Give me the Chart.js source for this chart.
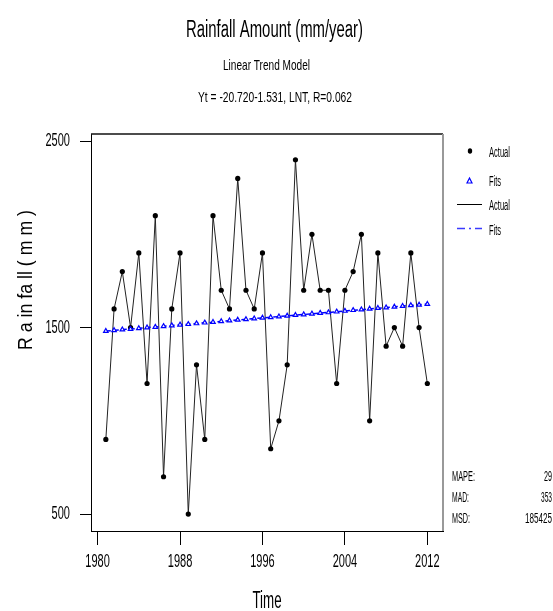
<!DOCTYPE html>
<html>
<head>
<meta charset="utf-8">
<script src="https://cdn.jsdelivr.net/npm/chart.js@4.4.1/dist/chart.umd.min.js"></script>
<style>
html,body{margin:0;padding:0;background:#fff;}
#wrap{width:553px;height:611px;}
</style>
</head>
<body>
<div id="wrap"><canvas id="c" width="553" height="611"></canvas></div>
<script>
// ---- data ----
const actual = [900,1600,1800,1500,1900,1200,2100,700,1600,1900,
                500,1300,900,2100,1700,1600,2300,1700,1600,1900,
                850,1000,1300,2400,1700,2000,1700,1700,1200,1700,
                1800,2000,1000,1900,1400,1500,1400,1900,1500,1200];
const fits = [1481,1485,1489,1492,1496,1500,1503,1507,1511,1515,
              1518,1522,1526,1529,1533,1537,1541,1544,1548,1552,
              1555,1559,1563,1567,1570,1574,1578,1581,1585,1589,
              1593,1596,1600,1604,1607,1611,1615,1619,1622,1626];
const xTickIndex = [0,10,20,30,40];
const xTickLabels = ['1980','1988','1996','2004','2012'];
const yTicks = [500,1500,2500];
const statNames = ['MAPE:','MAD:','MSD:'];
const statValues = ['29','353','185425'];

const FONT = "'Liberation Sans', Arial, sans-serif";
const canvas = document.getElementById('c');
const ctx0 = canvas.getContext('2d');
const protoFill = CanvasRenderingContext2D.prototype.fillText;
const TICK_SX = 0.58;
// condensed look for text drawn by the library
ctx0.fillText = function(t, x, y) {
  this.save(); this.translate(x, y); this.scale(TICK_SX, 1);
  protoFill.call(this, t, 0, 0); this.restore();
};

function txt(ctx, s, x, y, size, w, align, rot) {
  ctx.save();
  ctx.font = size + 'px ' + FONT;
  const m = ctx.measureText(s).width;
  ctx.translate(x, y);
  if (rot) ctx.rotate(rot);
  ctx.scale(w / m, 1);
  ctx.textAlign = align || 'center';
  ctx.textBaseline = 'alphabetic';
  ctx.fillStyle = '#000';
  protoFill.call(ctx, s, 0, 0);
  ctx.restore();
}

const decor = {
  id: 'decor',
  afterDraw(chart) {
    const ctx = chart.ctx, a = chart.chartArea;
    // frame top/right
    ctx.save();
    ctx.strokeStyle = '#111'; ctx.lineWidth = 1.5;
    ctx.beginPath(); ctx.moveTo(a.left, a.top); ctx.lineTo(a.right, a.top); ctx.stroke();
    ctx.strokeStyle = '#999'; ctx.lineWidth = 2;
    ctx.beginPath(); ctx.moveTo(a.right, a.top); ctx.lineTo(a.right, a.bottom); ctx.stroke();
    ctx.restore();
    // titles
    txt(ctx, 'Rainfall Amount (mm/year)', 274.5, 37, 23, 177);
    txt(ctx, 'Linear Trend Model', 266.5, 70, 15, 87);
    txt(ctx, 'Yt = -20.720-1.531, LNT, R=0.062', 275, 102, 15, 154);
    // y axis title
    txt(ctx, 'R a in fa ll ( m m )', 32, 280, 21, 140, 'center', -Math.PI / 2);
    // legend
    ctx.save();
    ctx.fillStyle = '#000';
    ctx.beginPath(); ctx.ellipse(470, 151, 2.2, 2.8, 0, 0, Math.PI * 2); ctx.fill();
    ctx.strokeStyle = '#0000ff'; ctx.lineWidth = 1.2;
    ctx.beginPath(); ctx.moveTo(469.5, 178); ctx.lineTo(472, 183); ctx.lineTo(467, 183); ctx.closePath(); ctx.stroke();
    ctx.strokeStyle = '#000'; ctx.lineWidth = 1;
    ctx.beginPath(); ctx.moveTo(457, 204.5); ctx.lineTo(482, 204.5); ctx.stroke();
    ctx.strokeStyle = '#3a3aff'; ctx.lineWidth = 1.5; ctx.setLineDash([8, 4, 2, 4]);
    ctx.beginPath(); ctx.moveTo(457, 228.5); ctx.lineTo(482, 228.5); ctx.stroke();
    ctx.restore();
    txt(ctx, 'Actual', 489, 157, 14, 21, 'left');
    txt(ctx, 'Fits', 489, 186, 14, 12, 'left');
    txt(ctx, 'Actual', 489, 210, 14, 21, 'left');
    txt(ctx, 'Fits', 489, 235, 14, 12, 'left');
    // accuracy measures
    const ys = [481, 502, 523];
    const nw = [23, 17, 18];
    const vw = [8, 11, 27];
    for (let i = 0; i < statNames.length; i++) {
      txt(ctx, statNames[i], 452, ys[i], 14, nw[i], 'left');
      txt(ctx, statValues[i], 552, ys[i], 14, vw[i], 'right');
    }
  }
};

new Chart(canvas, {
  type: 'line',
  data: {
    datasets: [
      {
        label: 'Fits',
        data: fits.map((v, i) => ({x: i + 1, y: v})),
        borderColor: '#0000ff',
        borderWidth: 1.5,
        borderDash: [5, 3],
        pointStyle: 'triangle',
        pointRadius: 2.6,
        pointBorderWidth: 1.2,
        pointBorderColor: '#0000ff',
        pointBackgroundColor: '#ffffff',
        tension: 0,
        order: 0
      },
      {
        label: 'Actual',
        data: actual.map((v, i) => ({x: i + 1, y: v})),
        borderColor: '#222',
        borderWidth: 1,
        pointStyle: 'circle',
        pointRadius: 2.6,
        pointBorderWidth: 0,
        pointBackgroundColor: '#000',
        tension: 0,
        order: 1
      }
    ]
  },
  options: {
    responsive: false,
    animation: false,
    devicePixelRatio: 1,
    events: [],
    layout: {padding: {top: 134, right: 110, left: 0, bottom: 0}},
    plugins: {legend: {display: false}, tooltip: {enabled: false}, title: {display: false}},
    scales: {
      x: {
        type: 'linear',
        min: -0.8,
        max: 41.9,
        afterBuildTicks(s) { s.ticks = xTickIndex.map(v => ({value: v})); },
        afterFit(s) { s.height = 80; },
        grid: {drawOnChartArea: false, drawTicks: true, tickLength: 14, color: '#000', tickWidth: 1},
        border: {display: true, color: '#000', width: 1},
        ticks: {
          padding: 5,
          color: '#000',
          maxRotation: 0,
          autoSkip: false,
          font: {family: FONT, size: 19},
          callback: (v) => { const k = xTickIndex.indexOf(v); return k >= 0 ? xTickLabels[k] : ''; }
        },
        title: {display: true, text: 'Time', color: '#000', font: {family: FONT, size: 23, lineHeight: 0.8}, padding: {top: 0, bottom: 0}}
      },
      y: {
        type: 'linear',
        min: 409,
        max: 2538,
        afterBuildTicks(s) { s.ticks = yTicks.map(v => ({value: v})); },
        afterFit(s) { s.width = 91; },
        grid: {drawOnChartArea: false, drawTicks: true, tickLength: 11, color: '#000', tickWidth: 1},
        border: {display: true, color: '#000', width: 1},
        ticks: {padding: 10, color: '#000', font: {family: FONT, size: 19}, callback: (v) => String(v)},
        title: {display: false}
      }
    }
  },
  plugins: [decor]
});
</script>
</body>
</html>
